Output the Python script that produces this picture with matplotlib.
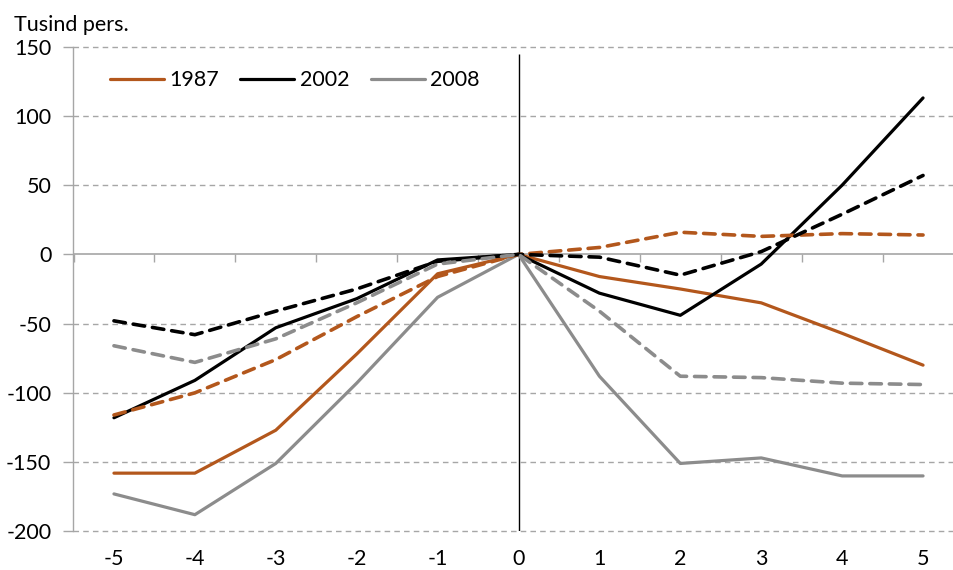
import matplotlib.pyplot as plt
import numpy as np

plt.rcParams['font.family'] = ['Lato', 'DejaVu Sans']
plt.rcParams['axes.unicode_minus'] = False

years = np.arange(-5, 6)

# solid lines
s1987 = [-158, -158, -127, -72, -14, 0, -16, -25, -35, -57, -80]
s2002 = [-118, -91, -53, -32, -4, 0, -28, -44, -7, 50, 113]
s2008 = [-173, -188, -151, -93, -31, 0, -88, -151, -147, -160, -160]
# dashed lines
d1987 = [-116, -100, -76, -45, -16, 0, 5, 16, 13, 15, 14]
d2002 = [-48, -58, -41, -25, -5, 0, -2, -15, 2, 29, 57]
d2008 = [-66, -78, -61, -35, -7, 0, -41, -88, -89, -93, -94]

labels = ['1987', '2002', '2008']
colors = ['#B3571C', '#000000', '#8C8C8C']

fig = plt.figure(figsize=(9.54, 5.70), dpi=100)
ax = fig.add_axes([73.5 / 954, (570 - 531.3) / 570, 890 / 954, 484.6 / 570])

ax.set_xlim(-5.5, 5.5)
ax.set_ylim(-200, 150)

for y in np.arange(-200, 151, 50):
    if y != 0:
        ax.axhline(y, color='#A6A6A6', lw=1, ls=(0, (4, 3)), zorder=0, clip_on=False)
ax.axhline(0, color='#A6A6A6', lw=1.2, zorder=1)

ax.vlines(0, -200, 145, color='black', lw=1, zorder=1)

for vals, c, lab in zip([s1987, s2002, s2008], colors, labels):
    ax.plot(years, vals, color=c, lw=2.3, label=lab, zorder=3, solid_capstyle='round')
for vals, c in zip([d1987, d2002, d2008], colors):
    ax.plot(years, vals, color=c, lw=2.6, ls=(0, (3.2, 2.2)), zorder=4,
            dash_capstyle='round')

for s in ['top', 'right', 'bottom']:
    ax.spines[s].set_visible(False)
ax.spines['left'].set_color('#A6A6A6')
ax.spines['left'].set_linewidth(1)

ax.set_yticks(np.arange(-200, 151, 50))
ax.tick_params(axis='y', direction='out', length=7, width=1, color='#A6A6A6',
               labelsize=15.5, pad=9)
ax.set_xticks(years)
ax.set_xticklabels([str(v) for v in years])
ax.tick_params(axis='x', length=0, labelsize=15.5, pad=13)

# category ticks on the axis crossing at zero
sec = ax.secondary_xaxis(200 / 350)
sec.set_xticks(np.arange(-5.5, 5.6, 1))
sec.xaxis.set_ticks_position('bottom')
sec.tick_params(direction='out', length=6, width=1, color='#A6A6A6', labelbottom=False)
for s in sec.spines.values():
    s.set_visible(False)

fig.text(14 / 954, 1 - 25 / 570, 'Tusind pers.', fontsize=15.5, va='center', ha='left')

ax.legend(loc='center left', bbox_to_anchor=(0.041, 0.931), ncol=3, frameon=False,
          fontsize=15.5, handlelength=2.5, handletextpad=0.25, columnspacing=1.0,
          borderpad=0, borderaxespad=0)

fig.savefig('out.png', dpi=100)
